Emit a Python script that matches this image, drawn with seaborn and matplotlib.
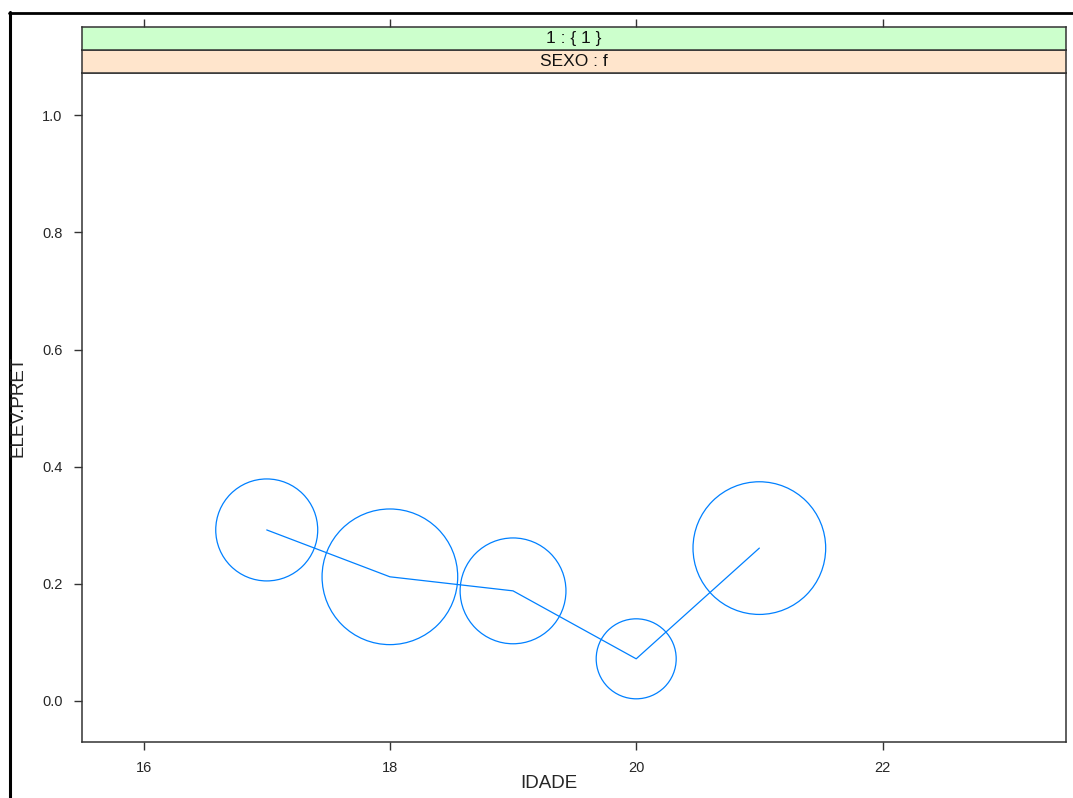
import numpy as np
import pandas as pd
import seaborn as sns
import matplotlib.pyplot as plt
from matplotlib.lines import Line2D

# dados
idade = [17, 18, 19, 20, 21]
elev_pret = [0.292, 0.212, 0.188, 0.072, 0.261]
peso = [2.6, 4.6, 2.8, 1.6, 4.4]
x_ticks = [16, 18, 20, 22]
y_ticks = [0.0, 0.2, 0.4, 0.6, 0.8, 1.0]
strip_sup = "1 : { 1 }"
strip_inf = "SEXO : f"

df = pd.DataFrame({"IDADE": idade, "ELEV.PRET": elev_pret, "peso": peso})

sns.set_style("white")
plt.rcParams["font.family"] = ["Liberation Sans", "DejaVu Sans"]

W, H = 1073, 798
fig = plt.figure(figsize=(W / 100, H / 100), dpi=100)

def box(x0, y0, x1, y1):
    # pixel coords (top-left origin) -> figure fraction
    return [x0 / W, 1 - y1 / H, (x1 - x0) / W, (y1 - y0) / H]

azul = "#0080ff"
borda = "#333333"
xlim = (15.5, 23.49)

ax = fig.add_axes(box(82, 73, 1066, 742))
sns.lineplot(data=df, x="IDADE", y="ELEV.PRET", ax=ax, color=azul, linewidth=0.9)
k = 2073.6
sns.scatterplot(data=df, x="IDADE", y="ELEV.PRET", size="peso",
                sizes=(k * min(peso), k * max(peso)), size_norm=(min(peso), max(peso)),
                legend=False, ax=ax, linewidth=0.9)
col = ax.collections[-1]
col.set_facecolor("none")
col.set_edgecolor(azul)

ax.set_xlim(*xlim)
ax.set_ylim(-0.07, 1.072)
ax.set_xticks(x_ticks)
ax.set_yticks(y_ticks)
ax.set_yticklabels([f"{v:.1f}" for v in y_ticks])
ax.tick_params(direction="out", length=6, width=1, color=borda,
               labelsize=10.5, pad=8, left=True, bottom=True)
for s in ax.spines.values():
    s.set_color(borda)
    s.set_linewidth(1.1)
ax.set_xlabel("")
ax.set_ylabel("")

fig.text(549 / W, 1 - 784 / H, "IDADE", ha="center", va="center", fontsize=13.5)
fig.text(18 / W, 1 - 406 / H, "ELEV.PRET", ha="center", va="center",
         rotation=90, fontsize=13.5)

# strips
for (y0, y1, cor, txt, topo) in [(50, 73, "#ffe5cc", strip_inf, False),
                                  (27, 50, "#ccffcc", strip_sup, True)]:
    sa = fig.add_axes(box(82, y0, 1066, y1))
    sa.set_facecolor(cor)
    sa.set_xlim(*xlim)
    sa.set_ylim(0, 1)
    sa.set_yticks([])
    for s in sa.spines.values():
        s.set_color(borda)
        s.set_linewidth(1.1)
    if topo:
        sa.set_xticks(x_ticks)
        sa.xaxis.tick_top()
        sa.tick_params(axis="x", direction="out", length=6, width=1,
                       color=borda, labeltop=False, labelbottom=False)
    else:
        sa.set_xticks([])
    sa.text(0.5, 0.5, txt, transform=sa.transAxes, ha="center", va="center",
            fontsize=12.5, color="#111111")

# moldura preta da janela
fig.add_artist(Line2D([9.5 / W, 9.5 / W], [0, 1 - 12 / H], color="black",
                      linewidth=2.2, transform=fig.transFigure))
fig.add_artist(Line2D([8.5 / W, 1], [1 - 13 / H, 1 - 13 / H], color="black",
                      linewidth=2.0, transform=fig.transFigure))

fig.savefig("out.png", dpi=100)
